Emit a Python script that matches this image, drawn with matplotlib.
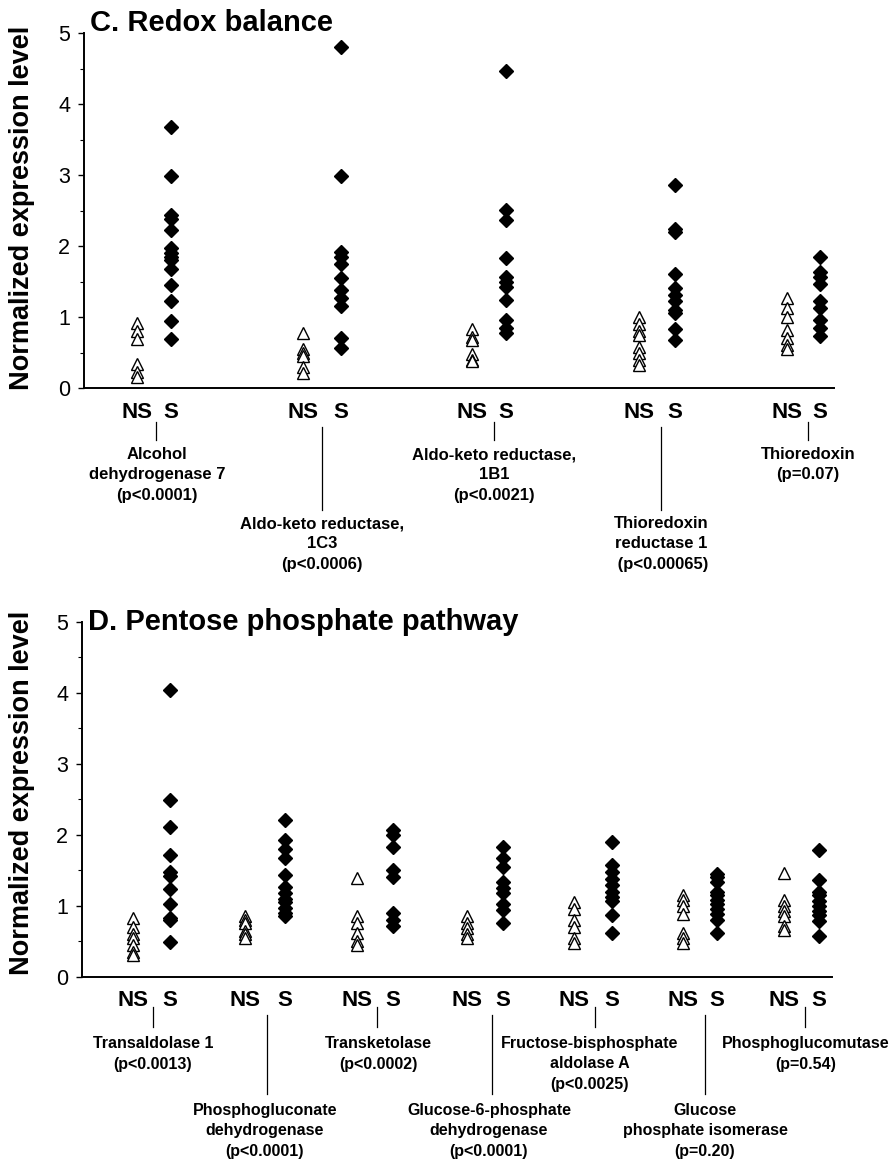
import matplotlib
matplotlib.use("Agg")
import matplotlib.pyplot as plt
import matplotlib.transforms as mtransforms
from matplotlib.ticker import MultipleLocator

plt.rcParams['font.family'] = ['Liberation Sans', 'DejaVu Sans']

W, H = 895, 1162

# ---- panel C: redox balance ----
c_ns = [
    [0.92, 0.8, 0.69, 0.34, 0.23, 0.15],
    [0.78, 0.55, 0.5, 0.45, 0.3, 0.21],
    [0.83, 0.72, 0.68, 0.48, 0.4, 0.38],
    [1.0, 0.9, 0.8, 0.75, 0.58, 0.5, 0.4, 0.33],
    [1.27, 1.13, 1.0, 0.82, 0.7, 0.6, 0.55],
]
c_s = [
    [3.67, 2.98, 2.43, 2.38, 2.22, 1.97, 1.9, 1.85, 1.8, 1.67, 1.45, 1.22, 0.94, 0.69],
    [4.8, 2.98, 1.92, 1.85, 1.75, 1.55, 1.38, 1.27, 1.15, 0.7, 0.57],
    [4.46, 2.51, 2.37, 1.83, 1.57, 1.5, 1.42, 1.24, 0.96, 0.85, 0.77],
    [2.86, 2.24, 2.2, 1.61, 1.41, 1.31, 1.22, 1.1, 1.05, 0.83, 0.68],
    [1.84, 1.64, 1.57, 1.47, 1.23, 1.12, 0.96, 0.84, 0.73],
]
c_labels = [
    "Alcohol\ndehydrogenase 7\n(p<0.0001)",
    "Aldo-keto reductase,\n1C3\n(p<0.0006)",
    "Aldo-keto reductase,\n1B1\n(p<0.0021)",
    "Thioredoxin\nreductase 1\n (p<0.00065)",
    "Thioredoxin\n(p=0.07)",
]

# ---- panel D: pentose phosphate pathway ----
d_ns = [
    [0.83, 0.7, 0.6, 0.55, 0.45, 0.35, 0.3],
    [0.85, 0.8, 0.75, 0.65, 0.6, 0.55],
    [1.39, 0.85, 0.75, 0.62, 0.5, 0.45],
    [0.85, 0.75, 0.68, 0.6, 0.55],
    [1.05, 0.95, 0.8, 0.7, 0.55, 0.48],
    [1.15, 1.08, 1.0, 0.88, 0.62, 0.55, 0.47],
    [1.46, 1.08, 1.0, 0.92, 0.85, 0.72, 0.66],
]
d_s = [
    [4.04, 2.49, 2.11, 1.71, 1.48, 1.42, 1.24, 1.03, 0.83, 0.8, 0.49],
    [2.21, 1.93, 1.8, 1.67, 1.43, 1.27, 1.18, 1.1, 1.05, 0.97, 0.9, 0.85],
    [2.07, 2.0, 1.82, 1.5, 1.41, 0.9, 0.8, 0.72],
    [1.83, 1.67, 1.55, 1.33, 1.25, 1.18, 1.02, 0.94, 0.75],
    [1.9, 1.57, 1.48, 1.38, 1.29, 1.2, 1.12, 1.07, 0.87, 0.62],
    [1.45, 1.4, 1.33, 1.2, 1.15, 1.08, 1.02, 0.95, 0.88, 0.8, 0.62],
    [1.78, 1.36, 1.2, 1.15, 1.07, 1.0, 0.93, 0.87, 0.78, 0.57],
]
d_labels = [
    "Transaldolase 1\n(p<0.0013)",
    "Phosphogluconate\ndehydrogenase\n(p<0.0001)",
    "Transketolase\n(p<0.0002)",
    "Glucose-6-phosphate\ndehydrogenase\n(p<0.0001)",
    "Fructose-bisphosphate\naldolase A\n(p<0.0025)",
    "Glucose\nphosphate isomerase\n(p=0.20)",
    "Phosphoglucomutase\n(p=0.54)",
]

fig = plt.figure(figsize=(W / 100, H / 100), dpi=100)


def fy(py):
    return 1 - py / H


def make_panel(left, right, top, bottom, title, title_base, ylab_y,
               ns, s, ns_x, s_x, lab_x, line_x, labels, fs, lay):
    ax = fig.add_axes([left / W, fy(bottom), (right - left) / W, (bottom - top) / H])
    ax.set_xlim(left, right)
    ax.set_ylim(0, 5)
    for sp in ['top', 'right']:
        ax.spines[sp].set_visible(False)
    ax.spines['left'].set_linewidth(1.4)
    ax.spines['bottom'].set_linewidth(1.4)
    ax.set_xticks([])
    ax.yaxis.set_major_locator(MultipleLocator(1))
    ax.yaxis.set_minor_locator(MultipleLocator(0.5))
    ax.tick_params(axis='y', which='major', length=4, width=1, labelsize=15.5, pad=6)
    ax.tick_params(axis='y', which='minor', length=3, width=0.8)

    for i in range(len(ns)):
        ax.plot([ns_x[i]] * len(ns[i]), ns[i], linestyle='none', marker='^',
                ms=9, mfc='white', mec='black', mew=1.0, clip_on=False)
        ax.plot([s_x[i]] * len(s[i]), s[i], linestyle='none', marker='D',
                ms=7.5, mfc='black', mec='black', clip_on=False)

    tr = mtransforms.blended_transform_factory(ax.transData, fig.transFigure)
    ns_y = lay['ns_y']
    for i in range(len(ns)):
        ax.text(ns_x[i], fy(ns_y), "NS", transform=tr, ha='center', va='center',
                fontsize=16, fontweight='bold')
        ax.text(s_x[i], fy(ns_y), "S", transform=tr, ha='center', va='center',
                fontsize=16, fontweight='bold')
        long = i % 2 == 1
        y0, y1 = lay['long_line'] if long else lay['short_line']
        ax.plot([line_x[i], line_x[i]], [fy(y0), fy(y1)], transform=tr,
                color='black', lw=0.9, clip_on=False)
        nlines = labels[i].count("\n") + 1
        first = lay['long_first'] if long else lay['short_first']
        cy = first + (nlines - 1) * lay['step'] / 2
        ax.text(lab_x[i], fy(cy), labels[i], transform=tr, ha='center',
                va='center', fontsize=fs, fontweight='bold', linespacing=1.45,
                multialignment='center')

    fig.text((left + 6) / W, fy(title_base), title, ha='left', va='baseline',
             fontsize=21, fontweight='bold')
    fig.text(22 / W, fy(ylab_y), "Normalized expression level", rotation=90,
             ha='center', va='center', fontsize=19.5, fontweight='bold')
    return ax


make_panel(84, 834, 33, 388, "C. Redox balance", 31, 208,
           c_ns, c_s,
           [137, 303, 472, 639, 787], [171, 341, 506, 675, 820],
           [157, 322, 494, 661, 808], [156, 322, 494, 661, 808],
           c_labels, 12,
           dict(ns_y=413, short_line=(422, 440), long_line=(427, 510),
                short_first=454, long_first=523, step=21))

make_panel(82, 832, 621.7, 976.7, "D. Pentose phosphate pathway", 630, 793,
           d_ns, d_s,
           [133, 245, 357, 467, 574, 683, 784], [170, 285, 393, 503, 612, 717, 819],
           [153, 265, 378, 489, 590, 705, 806], [153, 267, 377, 492, 595, 705, 805],
           d_labels, 11.5,
           dict(ns_y=1000, short_line=(1007, 1027), long_line=(1015, 1094),
                short_first=1044, long_first=1111, step=20))

fig.savefig("out.png", dpi=100)
